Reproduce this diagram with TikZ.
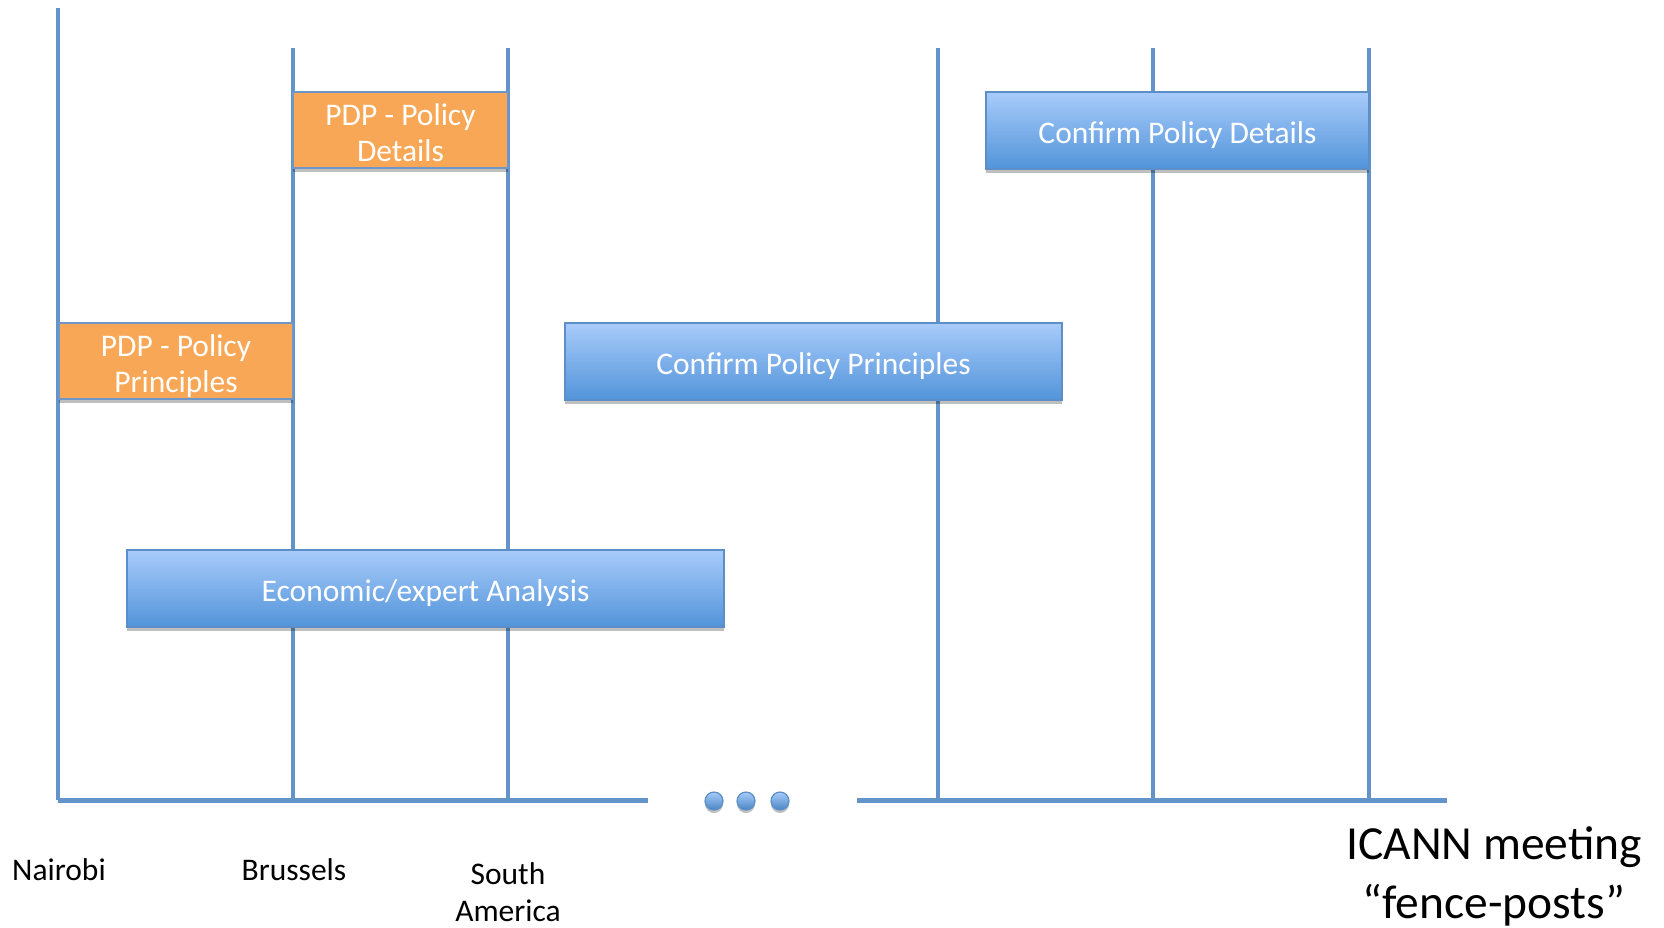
\documentclass[tikz,border=0pt]{standalone}
\usepackage{fontspec}
\setmainfont{Carlito}
\usetikzlibrary{shadows}

\definecolor{postblue}{RGB}{98,147,201}
\definecolor{pdporange}{RGB}{248,167,86}
\definecolor{pdpedge}{RGB}{110,150,200}
\definecolor{boxtop}{RGB}{168,203,250}
\definecolor{boxbottom}{RGB}{82,148,218}
\definecolor{boxedge}{RGB}{92,142,200}

% box text, sitting a little low as in the slide
\newcommand{\boxtext}[1]{\raisebox{-6pt}[\height][\depth]{\begin{tabular}{@{}c@{}}#1\end{tabular}}}

\tikzset{every picture/.style={line width=0.75pt}}

\begin{document}
\begin{tikzpicture}[x=1pt,y=1pt,yscale=-1,xscale=1,
  post/.style={draw=postblue, line width=4.5pt},
  axisline/.style={draw=postblue, line width=5pt},
  taskbox/.style={draw=boxedge, line width=1.5pt, text=white, align=center, inner sep=0pt,
    font=\fontsize{31.5}{36}\selectfont,
    drop shadow={shadow xshift=0pt, shadow yshift=-4pt, opacity=0.25, fill=black}},
  pdpbox/.style={taskbox, fill=pdporange, draw=pdpedge},
  confbox/.style={taskbox, top color=boxtop, bottom color=boxbottom},
  dotball/.style={circle, draw=boxedge, line width=1.2pt, minimum size=18pt, inner sep=0pt,
    top color=boxtop, bottom color=boxbottom!90!black,
    drop shadow={shadow xshift=0pt, shadow yshift=-3pt, opacity=0.25, fill=black}},
  place/.style={text=black, font=\fontsize{31.5}{37}\selectfont, align=center, inner sep=0pt}]
\useasboundingbox (0,0) rectangle (1664,927);

%Fence posts
\coordinate (nai top) at (58,8);
\coordinate (nai foot) at (58,800);
\coordinate (bru top) at (293,48);
\coordinate (bru foot) at (293,800);
\coordinate (sam top) at (508,48);
\coordinate (sam foot) at (508,800);
\coordinate (m4 top) at (938,48);
\coordinate (m4 foot) at (938,800);
\coordinate (m5 top) at (1153,48);
\coordinate (m5 foot) at (1153,800);
\coordinate (m6 top) at (1369,48);
\coordinate (m6 foot) at (1369,800);
\coordinate (gap left) at (648,800);
\coordinate (gap right) at (857,800);
\coordinate (axis end) at (1447,800);

\draw [post] (nai top) -- (nai foot) ;
\draw [post] (bru top) -- (bru foot) ;
\draw [post] (sam top) -- (sam foot) ;
\draw [post] (m4 top) -- (m4 foot) ;
\draw [post] (m5 top) -- (m5 foot) ;
\draw [post] (m6 top) -- (m6 foot) ;

%Time axis
\draw [axisline] (nai foot) -- (gap left) ;
\draw [axisline] (gap right) -- (axis end) ;

%Dots
\node [dotball] (dot1) at (714,801) {};
\node [dotball] (dot2) at (746,801) {};
\node [dotball] (dot3) at (780,801) {};

%Work boxes
\node [pdpbox, minimum width=215pt, minimum height=76pt] (pdp details) at (400.5,130) {\boxtext{PDP - Policy\\Details}};
\node [pdpbox, minimum width=234pt, minimum height=76pt] (pdp principles) at (176,361) {\boxtext{PDP - Policy\\Principles}};
\node [confbox, minimum width=597pt, minimum height=77pt] (analysis) at (425.5,588.5) {\boxtext{Economic/expert Analysis}};
\node [confbox, minimum width=497pt, minimum height=77pt] (conf principles) at (813.5,361.5) {\boxtext{Confirm Policy Principles}};
\node [confbox, minimum width=383pt, minimum height=77pt] (conf details) at (1177.5,130.5) {\boxtext{Confirm Policy Details}};

% Text Node
\node [place] (nairobi) at (59,870) {Nairobi};
% Text Node
\node [place] (brussels) at (294,870) {Brussels};
% Text Node
\node [place] (south america) at (508,892) {South\\America};
% Text Node
\node [place, font=\fontsize{47.5}{59}\selectfont] (fence posts) at (1494,876) {ICANN meeting\\“fence-posts”};

\end{tikzpicture}
\end{document}
